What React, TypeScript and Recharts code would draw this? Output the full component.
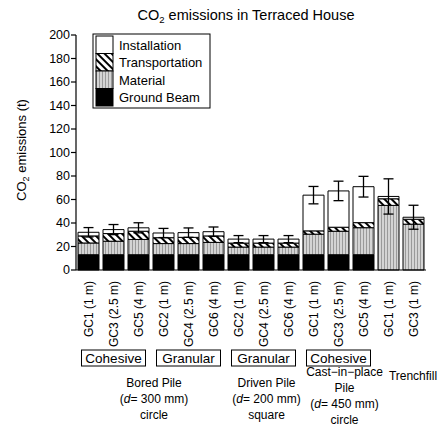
import { Bar, BarChart, ErrorBar, XAxis, YAxis } from 'recharts';

const categories = [
  'GC1 (1 m)', 'GC3 (2.5 m)', 'GC5 (4 m)',
  'GC2 (1 m)', 'GC4 (2.5 m)', 'GC6 (4 m)',
  'GC2 (1 m)', 'GC4 (2.5 m)', 'GC6 (4 m)',
  'GC1 (1 m)', 'GC3 (2.5 m)', 'GC5 (4 m)',
  'GC1 (1 m)', 'GC3 (1 m)',
];
const groundBeam = [13, 13, 13, 13, 13, 13, 13, 13, 13, 13, 13, 13, 0, 0];
const material = [10, 11.5, 13, 9.5, 9.5, 10.5, 6.5, 6.5, 6.5, 17.5, 20, 23, 55, 39];
const transportation = [6, 6.5, 7, 5, 5.3, 5.5, 3.4, 3.4, 3.4, 2.8, 3.4, 4.3, 5.6, 4.2];
const installation = [3.1, 3.4, 2.9, 4, 4, 3.6, 3.4, 3.4, 3.4, 30.4, 30.9, 30.6, 2, 1.7];
const errorRange = [4, 4.3, 4.3, 3.9, 4, 4, 3, 3, 3, 7.4, 8.3, 8.8, 15, 10.2];
const yTicks = [0, 20, 40, 60, 80, 100, 120, 140, 160, 180, 200];

const soilLabels = ['Cohesive', 'Granular', 'Granular', 'Cohesive'];
const soilStarts = [0, 3, 6, 9];
const soilCounts = [3, 3, 3, 3];

const pileStarts = [0, 6, 9, 12];
const pileCounts = [6, 3, 3, 2];

const data = categories.map((c, i) => ({
  id: i,
  label: c,
  groundBeam: groundBeam[i],
  material: material[i],
  transportation: transportation[i],
  installation: installation[i],
  err: errorRange[i],
}));

// plot box (matches chart margins below)
const W = 437;
const H = 432;
const plotLeft = 76;
const plotRight = 426;
const band = (plotRight - plotLeft) / categories.length;
const centerOf = (start: number, count: number) => plotLeft + (start + count / 2) * band;

const font = '"Liberation Sans", Arial, sans-serif';

function XTick(props: any) {
  const { x, y, payload } = props;
  const ty = y + 3;
  return (
    <text
      x={x}
      y={ty}
      dy="0.35em"
      transform={`rotate(-90 ${x} ${ty})`}
      textAnchor="end"
      fontSize={12}
      fill="#000"
    >
      {categories[payload.value]}
    </text>
  );
}

function Patterns() {
  return (
    <defs>
      <pattern id="pat-material" width="3" height="4" patternUnits="userSpaceOnUse">
        <rect width="3" height="4" fill="#d4d4d4" />
        <rect width="1" height="4" fill="#9a9a9a" />
      </pattern>
      <pattern id="pat-transport" width="5" height="5" patternUnits="userSpaceOnUse" patternTransform="rotate(-45)">
        <rect width="5" height="5" fill="#fff" />
        <line x1="1" y1="0" x2="1" y2="5" stroke="#000" strokeWidth="2" />
      </pattern>
    </defs>
  );
}

const legendItems = [
  { name: 'Installation', fill: '#fff' },
  { name: 'Transportation', fill: 'url(#pat-transport)' },
  { name: 'Material', fill: 'url(#pat-material)' },
  { name: 'Ground Beam', fill: '#000' },
];

function Overlay() {
  const pileLabel = (i: number) => {
    const cx = centerOf(pileStarts[i], pileCounts[i]);
    if (i === 0 || i === 1) {
      const dmm = i === 0 ? '300' : '200';
      const shape = i === 0 ? 'circle' : 'square';
      return (
        <text key={i} x={cx + 3} y={387} textAnchor="middle" fontSize={12}>
          <tspan x={cx + 3}>{i === 0 ? 'Bored Pile' : 'Driven Pile'}</tspan>
          <tspan x={cx + 3} dy={16}>
            (<tspan fontStyle="italic">d</tspan>= {dmm} mm)
          </tspan>
          <tspan x={cx + 3} dy={16}>{shape}</tspan>
        </text>
      );
    }
    if (i === 2) {
      return (
        <text key={i} x={cx + 6} y={376} textAnchor="middle" fontSize={12}>
          <tspan x={cx + 6}>Cast−in−place</tspan>
          <tspan x={cx + 6} dy={16}>Pile</tspan>
          <tspan x={cx + 6} dy={16}>
            (<tspan fontStyle="italic">d</tspan>= 450 mm)
          </tspan>
          <tspan x={cx + 6} dy={16}>circle</tspan>
        </text>
      );
    }
    return (
      <text key={i} x={cx + 12} y={380} textAnchor="middle" fontSize={12}>
        Trenchfill
      </text>
    );
  };

  return (
    <svg width={W} height={H} style={{ position: 'absolute', left: 0, top: 0, pointerEvents: 'none', fontFamily: font }}>
      <Patterns />
      <text x={246} y={20} textAnchor="middle" fontSize={14.5}>
        CO<tspan dy={3} fontSize={9.5}>2</tspan>
        <tspan dy={-3}> emissions in Terraced House</tspan>
      </text>
      <text transform="translate(26 150) rotate(-90)" textAnchor="middle" fontSize={13}>
        CO<tspan dy={3} fontSize={9}>2</tspan>
        <tspan dy={-3}> emissions (t)</tspan>
      </text>

      <rect x={93} y={34} width={117} height={74} fill="#fff" stroke="#000" strokeWidth={1} />
      {legendItems.map((it, i) => (
        <g key={it.name}>
          <rect x={96} y={36 + i * 17.5} width={17} height={17.5} fill={it.fill} stroke="#000" strokeWidth={1} />
          <text x={119} y={45 + i * 17.5} dy="0.35em" fontSize={13}>
            {it.name}
          </text>
        </g>
      ))}

      {soilLabels.map((s, i) => {
        const cx = centerOf(soilStarts[i], soilCounts[i]);
        return (
          <g key={i}>
            <rect x={cx - 32} y={350} width={64} height={16} fill="#fff" stroke="#000" strokeWidth={1} />
            <text x={cx} y={358} dy="0.36em" textAnchor="middle" fontSize={13.5}>
              {s}
            </text>
          </g>
        );
      })}

      {pileStarts.map((_, i) => pileLabel(i))}
    </svg>
  );
}

export default function App() {
  return (
    <div style={{ position: 'absolute', left: 0, top: 0, width: W, height: H, fontFamily: font, background: '#fff' }}>
      <BarChart
        width={W}
        height={H}
        data={data}
        margin={{ top: 35, right: W - plotRight, bottom: 87, left: plotLeft - 60 }}
        barCategoryGap={2}
      >
        <Patterns />
        <XAxis
          dataKey="id"
          type="category"
          interval={0}
          height={75}
          tickLine={false}
          axisLine={{ stroke: '#000', strokeWidth: 1.2 }}
          tick={<XTick />}
        />
        <YAxis
          domain={[0, 200]}
          ticks={yTicks}
          width={60}
          tickSize={5}
          tickMargin={1}
          axisLine={{ stroke: '#000', strokeWidth: 1.2 }}
          tickLine={{ stroke: '#000', strokeWidth: 1.2 }}
          tick={{ fill: '#000', fontSize: 12.5 }}
          interval={0}
        />
        <Bar dataKey="groundBeam" stackId="a" fill="#000" stroke="#000" strokeWidth={1} isAnimationActive={false} />
        <Bar dataKey="material" stackId="a" fill="url(#pat-material)" stroke="#000" strokeWidth={1} isAnimationActive={false} />
        <Bar dataKey="transportation" stackId="a" fill="url(#pat-transport)" stroke="#000" strokeWidth={1} isAnimationActive={false} />
        <Bar dataKey="installation" stackId="a" fill="#fff" stroke="#000" strokeWidth={1} isAnimationActive={false}>
          <ErrorBar dataKey="err" width={5} stroke="#000" strokeWidth={1.3} direction="y" isAnimationActive={false} />
        </Bar>
      </BarChart>
      <Overlay />
    </div>
  );
}
